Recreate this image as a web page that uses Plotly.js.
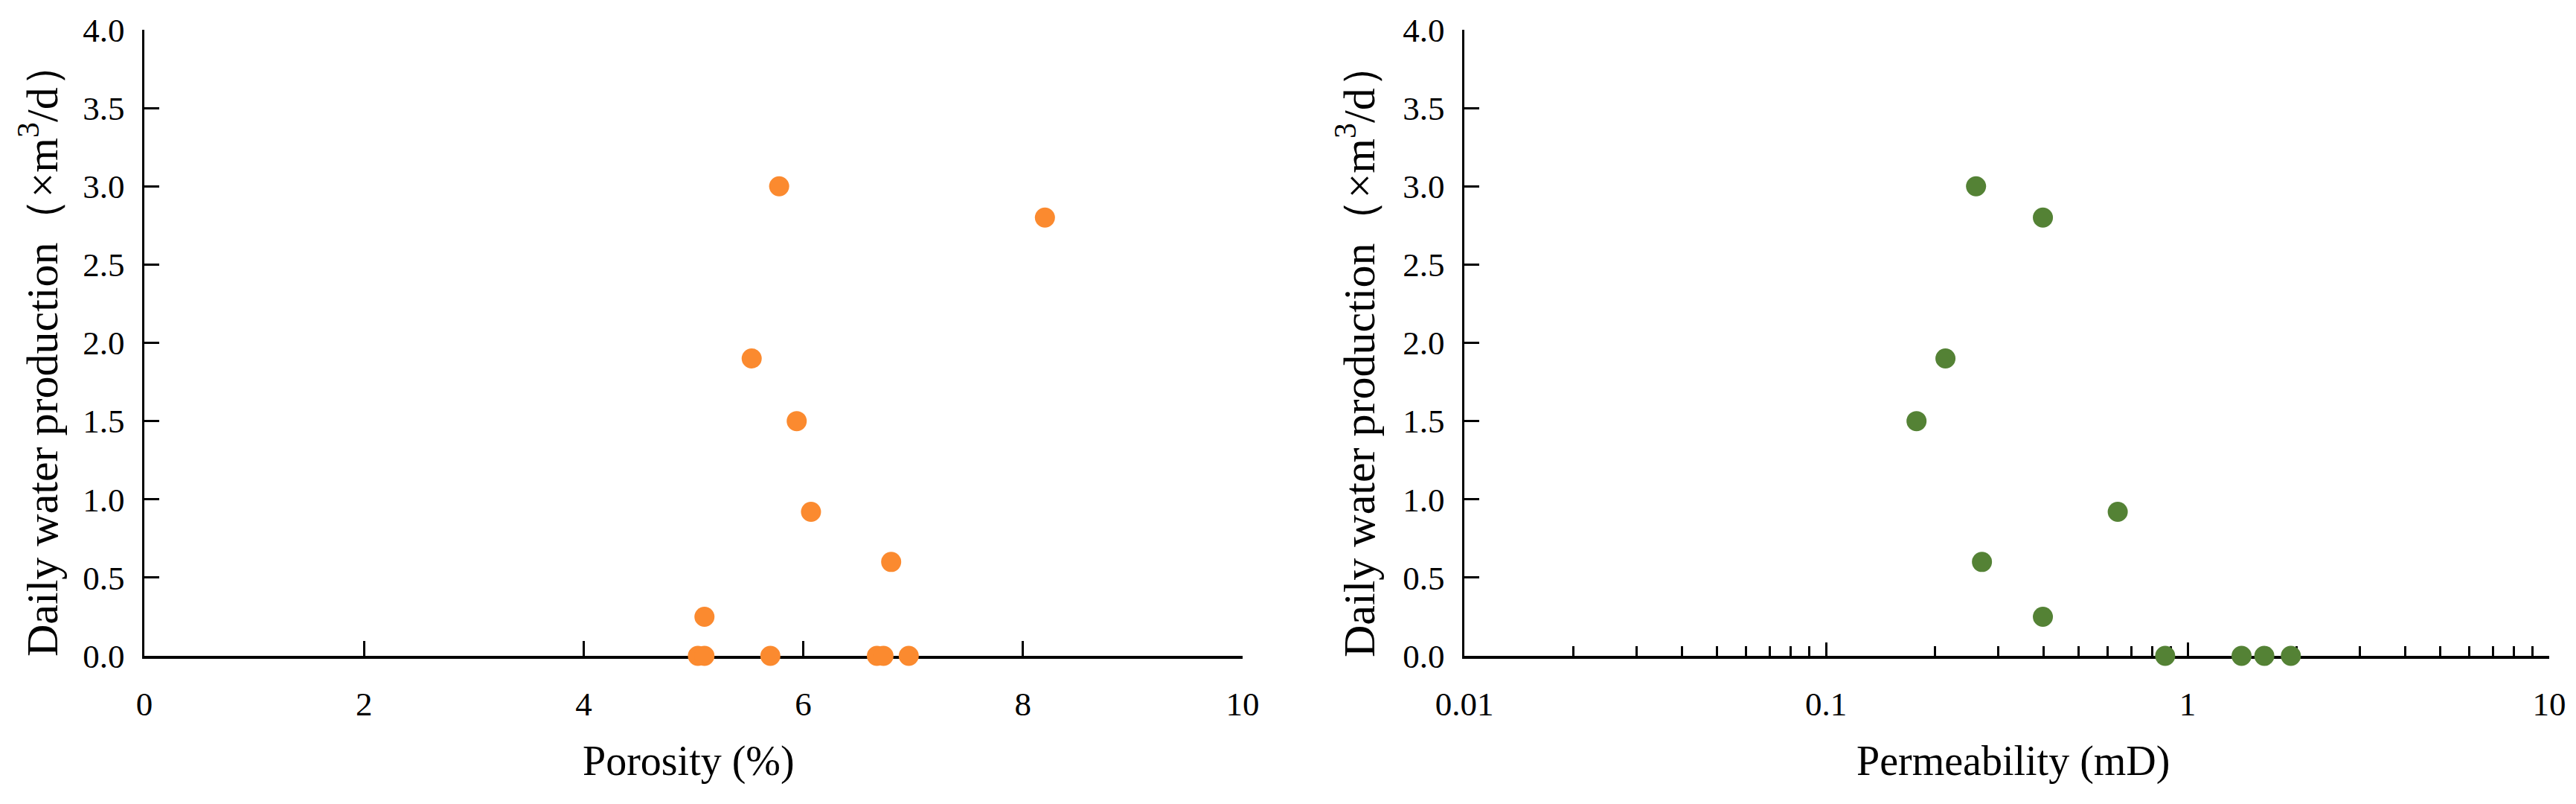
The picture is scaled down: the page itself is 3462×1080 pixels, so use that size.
<!DOCTYPE html>
<html>
<head>
<meta charset="utf-8">
<script src="https://cdn.plot.ly/plotly-3.0.1.min.js"></script>
<style>
  html, body { margin: 0; padding: 0; background: #fff; }
  #chart { width: 3462px; height: 1080px; }
</style>
</head>
<body>
<div id="chart"></div>
<script>
// porosity panel (left)
const porosity = [5.78, 8.20, 5.53, 5.94, 6.07, 6.80, 5.10, 5.04, 5.10, 5.70, 6.67, 6.73, 6.96];
const waterPoro = [3.00, 2.80, 1.90, 1.50, 0.92, 0.60, 0.25, 0, 0, 0, 0, 0, 0];

// permeability panel (right, log x)
const permeability = [0.260, 0.398, 0.214, 0.178, 0.641, 0.270, 0.398, 0.867, 1.41, 1.63, 1.93];
const waterPerm = [3.00, 2.80, 1.90, 1.50, 0.92, 0.60, 0.25, 0, 0, 0, 0];

const yTitle = 'Daily water production（×m<sup>3</sup>/d）';
const xTitles = ['Porosity (%)', 'Permeability (mD)'];

const FONT = '"Liberation Serif", "Times New Roman", Times, serif';
const W = 3462, H = 1080;

const axisBase = {
  showline: true, linecolor: '#000', linewidth: 3.5,
  ticks: 'inside', tickcolor: '#000', tickwidth: 3,
  showgrid: false, zeroline: false,
  layer: 'below traces',
  tickfont: { family: FONT, size: 45, color: '#000' },
  fixedrange: true,
};

const yAxis = {
  ...axisBase,
  range: [0, 4], dtick: 0.5, tick0: 0, tickformat: '.1f',
  ticklen: 20, ticklabelstandoff: 14,
};

const traces = [
  {
    x: porosity, y: waterPoro, xaxis: 'x', yaxis: 'y',
    type: 'scatter', mode: 'markers', cliponaxis: false,
    marker: { size: 27, color: '#FB8A2F' },
    hoverinfo: 'skip',
  },
  {
    x: permeability, y: waterPerm, xaxis: 'x2', yaxis: 'y2',
    type: 'scatter', mode: 'markers', cliponaxis: false,
    marker: { size: 27, color: '#548235' },
    hoverinfo: 'skip',
  },
];

const yDomain = [(H - 881) / H, (H - 40) / H];

const layout = {
  width: W, height: H,
  margin: { l: 0, r: 0, t: 0, b: 0 },
  paper_bgcolor: '#fff', plot_bgcolor: '#fff',
  showlegend: false,
  font: { family: FONT, color: '#000' },
  xaxis: {
    ...axisBase,
    domain: [194 / W, 1670 / W],
    range: [0, 10], dtick: 2, tick0: 0,
    ticklen: 20, ticklabelstandoff: 22,
    anchor: 'y',
  },
  yaxis: { ...yAxis, domain: yDomain, anchor: 'x' },
  xaxis2: {
    ...axisBase,
    type: 'log',
    domain: [1968 / W, 3426 / W],
    range: [-2, 1],
    tickvals: [0.01, 0.1, 1, 10],
    ticktext: ['0.01', '0.1', '1', '10'],
    ticklen: 18, ticklabelstandoff: 22,
    minor: { ticks: 'inside', ticklen: 13, tickwidth: 3, tickcolor: '#000', dtick: 'D1', showgrid: false },
    anchor: 'y2',
  },
  yaxis2: { ...yAxis, domain: yDomain, anchor: 'x2' },
  annotations: [
    {
      text: yTitle, xref: 'paper', yref: 'paper',
      x: 53 / W, y: 1 - 470 / H, textangle: -90,
      showarrow: false, xanchor: 'center', yanchor: 'middle',
      font: { family: FONT, size: 60, color: '#000' },
    },
    {
      text: yTitle, xref: 'paper', yref: 'paper',
      x: 1823 / W, y: 1 - 470 / H, textangle: -90,
      showarrow: false, xanchor: 'center', yanchor: 'middle',
      font: { family: FONT, size: 60, color: '#000' },
    },
    {
      text: xTitles[0], xref: 'paper', yref: 'paper',
      x: 925 / W, y: 1 - 1022 / H,
      showarrow: false, xanchor: 'center', yanchor: 'middle',
      font: { family: FONT, size: 56, color: '#000' },
    },
    {
      text: xTitles[1], xref: 'paper', yref: 'paper',
      x: 2705 / W, y: 1 - 1022 / H,
      showarrow: false, xanchor: 'center', yanchor: 'middle',
      font: { family: FONT, size: 56, color: '#000' },
    },
  ],
};

Plotly.newPlot('chart', traces, layout, { displayModeBar: false, staticPlot: true });
</script>
</body>
</html>
